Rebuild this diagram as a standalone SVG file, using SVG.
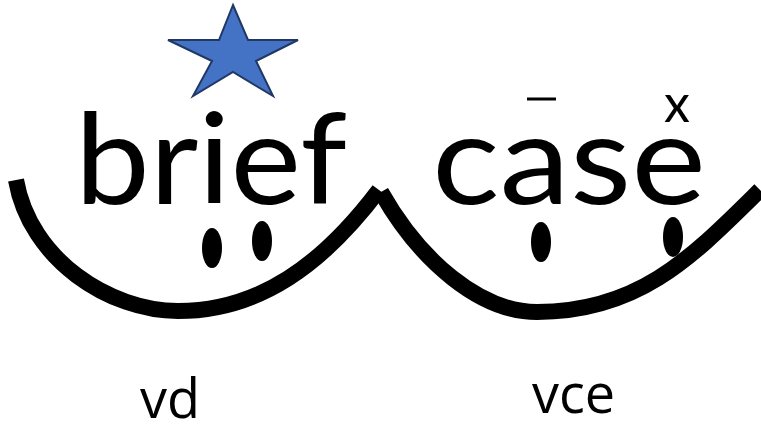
<svg xmlns="http://www.w3.org/2000/svg" width="761" height="426" viewBox="0 0 761 426">
  <style>
    .word { font-family: Lato, "Liberation Sans", sans-serif; font-size: 126px; fill: #000; }
    .mark { font-family: Lato, "Liberation Sans", sans-serif; font-size: 52px; fill: #000; }
    .label { font-family: "Open Sans", "Liberation Sans", sans-serif; font-size: 54px; fill: #000; }
    .arc { fill: none; stroke: #000; stroke-width: 16; stroke-linecap: butt; }
    .dot { fill: #000; }
    .star { fill: #4472C4; stroke: #1F3864; stroke-width: 2; stroke-linejoin: miter; }
  </style>

  <!-- syllable scoops under each word -->
  <g id="arcs">
    <path class="arc" d="M16,180 C30,260 110,311 178,311 C260,311 323,264 379,190"/>
    <path class="arc" d="M381,192 C420,261 480,312 537,312 C640,312 693,256 760,190"/>
  </g>

  <!-- accent star above the stressed syllable -->
  <g id="star">
    <polygon class="star" points="233,5 248,40 298,40 256,61 273,96 233,72 193,96 212,61 168,40 219,40"/>
  </g>

  <g id="word-brief">
    <text class="word" x="75" y="204" textLength="272" lengthAdjust="spacingAndGlyphs">brief</text>
    <ellipse class="dot" cx="212" cy="248" rx="10" ry="20"/>
    <ellipse class="dot" cx="262" cy="241" rx="10" ry="20"/>
  </g>

  <g id="word-case">
    <text class="word" x="432" y="204" textLength="274" lengthAdjust="spacingAndGlyphs">case</text>
    <!-- long vowel mark over a, silent-e cross over e -->
    <rect x="527" y="97.5" width="29" height="3" fill="#000"/>
    <text class="mark" x="677" y="122" text-anchor="middle">x</text>
    <ellipse class="dot" cx="541" cy="242" rx="10" ry="20"/>
    <ellipse class="dot" cx="673" cy="237" rx="10" ry="20"/>
  </g>

  <g id="label-vd">
    <text class="label" x="140" y="418">vd</text>
  </g>
  <g id="label-vce">
    <text class="label" x="532" y="413">vce</text>
  </g>
</svg>
